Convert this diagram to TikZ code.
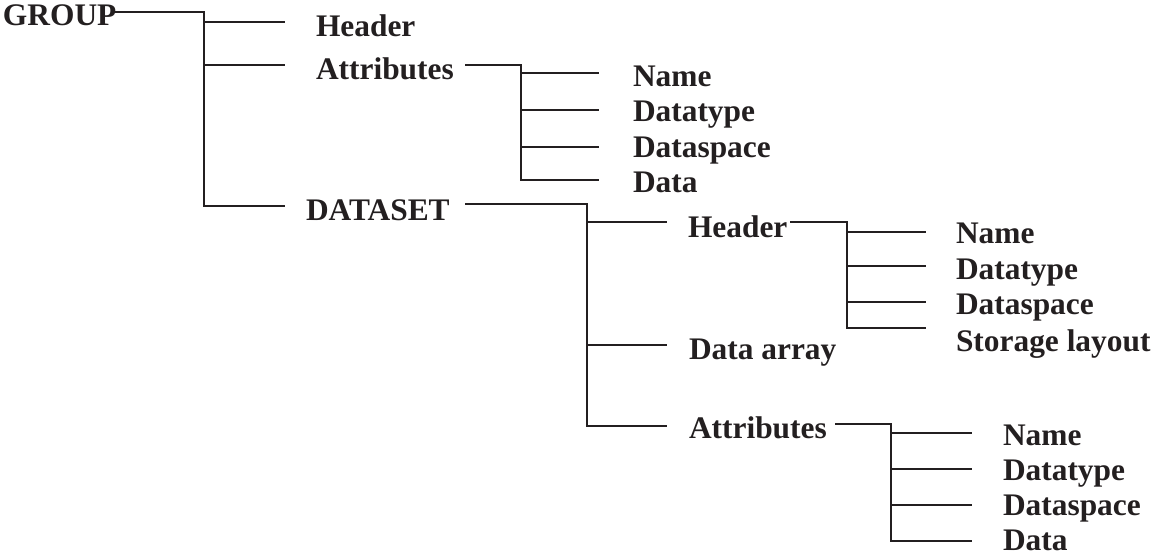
\documentclass[tikz,border=0pt]{standalone}
\usepackage{fontspec}
\setmainfont{Liberation Serif}
\definecolor{ink}{HTML}{231F20}

\begin{document}
\begin{tikzpicture}[x=0.5pt,y=-0.5pt,line width=1pt,color=ink,
  lbl/.style={anchor=base west,inner sep=0pt,font=\fontsize{15.7}{18}\selectfont\bfseries}]
\useasboundingbox (0,0) rectangle (1156,556);

% labels
\node[lbl] (group) at (2,26) {GROUP};
\node[lbl] (ghdr) at (315,37) {Header};
\node[lbl] (gatt) at (315,80) {Attributes};
\node[lbl] (dset) at (305,220) {DATASET};

\node[lbl] (ganame) at (632,87) {Name};
\node[lbl] (gatype) at (632,122) {Datatype};
\node[lbl] (gaspace) at (632,157) {Dataspace};
\node[lbl] (gadata) at (632,192) {Data};

\node[lbl] (dhdr) at (687,237) {Header};
\node[lbl] (darr) at (688,359) {Data array};
\node[lbl] (datt) at (688,438) {Attributes};

\node[lbl] (hname) at (955,243) {Name};
\node[lbl] (htype) at (955,279) {Datatype};
\node[lbl] (hspace) at (955,314) {Dataspace};
\node[lbl] (hlayout) at (955,351) {Storage layout};

\node[lbl] (daname) at (1002,445) {Name};
\node[lbl] (datype) at (1002,480) {Datatype};
\node[lbl] (daspace) at (1002,515) {Dataspace};
\node[lbl] (dadata) at (1002,550) {Data};

% GROUP
\coordinate (g0) at (113,12);
\coordinate (gj) at (204,12);
\coordinate (g1) at (204,22); \coordinate (g1e) at (285,22);
\coordinate (g2) at (204,65); \coordinate (g2e) at (285,65);
\coordinate (g3) at (204,206); \coordinate (g3e) at (285,206);
\draw (g0) -- (gj) -- (g3) -- (g3e) (g1) -- (g1e) (g2) -- (g2e);

% group attributes
\coordinate (a0) at (465,65);
\coordinate (aj) at (521,65);
\coordinate (a1) at (521,73); \coordinate (a1e) at (599,73);
\coordinate (a2) at (521,110); \coordinate (a2e) at (599,110);
\coordinate (a3) at (521,147); \coordinate (a3e) at (599,147);
\coordinate (a4) at (521,180); \coordinate (a4e) at (599,180);
\draw (a0) -- (aj) -- (a4) -- (a4e) (a1) -- (a1e) (a2) -- (a2e) (a3) -- (a3e);

% DATASET
\coordinate (d0) at (465,204);
\coordinate (dj) at (587,204);
\coordinate (d1) at (587,222); \coordinate (d1e) at (667,222);
\coordinate (d2) at (587,345); \coordinate (d2e) at (667,345);
\coordinate (d3) at (587,426); \coordinate (d3e) at (667,426);
\draw (d0) -- (dj) -- (d3) -- (d3e) (d1) -- (d1e) (d2) -- (d2e);

% dataset header
\coordinate (h0) at (790,222);
\coordinate (hj) at (847,222);
\coordinate (h1) at (847,232); \coordinate (h1e) at (926,232);
\coordinate (h2) at (847,266); \coordinate (h2e) at (926,266);
\coordinate (h3) at (847,302); \coordinate (h3e) at (926,302);
\coordinate (h4) at (847,328); \coordinate (h4e) at (926,328);
\draw (h0) -- (hj) -- (h4) -- (h4e) (h1) -- (h1e) (h2) -- (h2e) (h3) -- (h3e);

% dataset attributes
\coordinate (b0) at (835,424);
\coordinate (bj) at (891,424);
\coordinate (b1) at (891,433); \coordinate (b1e) at (972,433);
\coordinate (b2) at (891,469); \coordinate (b2e) at (972,469);
\coordinate (b3) at (891,505); \coordinate (b3e) at (972,505);
\coordinate (b4) at (891,541); \coordinate (b4e) at (972,541);
\draw (b0) -- (bj) -- (b4) -- (b4e) (b1) -- (b1e) (b2) -- (b2e) (b3) -- (b3e);
\end{tikzpicture}
\end{document}
